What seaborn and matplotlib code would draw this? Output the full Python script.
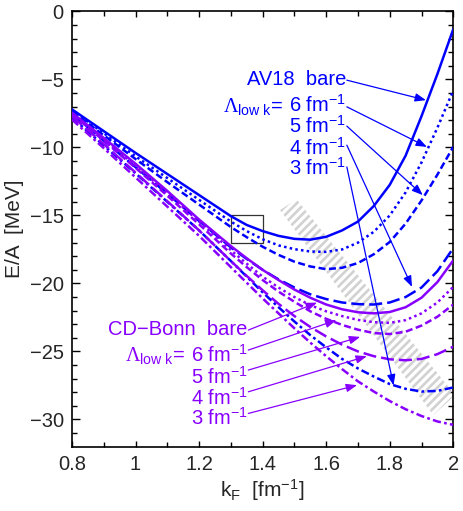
import pandas as pd
import seaborn as sns
import matplotlib.pyplot as plt

# E/A of nuclear matter vs Fermi momentum, AV18 and CD-Bonn, bare and V_low k
k_f = [0.8, 0.9, 1.0, 1.1, 1.2, 1.3, 1.35, 1.4, 1.45, 1.5,
       1.55, 1.6, 1.65, 1.7, 1.75, 1.8, 1.85, 1.9, 1.95, 2.0]

av18_bare = [-7.20, -8.80, -10.40, -11.95, -13.50, -15.05, -15.70, -16.15, -16.50, -16.72,
             -16.78, -16.57, -16.10, -15.45, -14.30, -12.75, -10.60, -7.70, -4.60, -1.30]
av18_6 = [-7.28, -8.95, -10.65, -12.25, -13.85, -15.45, -16.15, -16.75, -17.20, -17.48,
          -17.65, -17.68, -17.50, -17.00, -16.20, -15.00, -13.30, -11.10, -8.55, -5.80]
av18_5 = [-7.35, -9.10, -10.85, -12.55, -14.20, -15.85, -16.60, -17.30, -17.90, -18.40,
          -18.75, -18.95, -18.85, -18.50, -17.85, -16.95, -15.60, -13.90, -12.00, -9.95]
av18_4 = [-7.55, -9.50, -11.45, -13.40, -15.40, -17.35, -18.20, -19.00, -19.70, -20.30,
          -20.80, -21.15, -21.40, -21.52, -21.55, -21.40, -21.00, -20.30, -19.10, -17.40]
av18_3 = [-7.80, -9.85, -11.90, -14.00, -16.10, -18.35, -19.50, -20.65, -21.75, -22.80,
          -23.80, -24.70, -25.55, -26.25, -26.85, -27.40, -27.75, -27.95, -27.90, -27.65]

cdb_bare = [-7.45, -9.30, -11.20, -13.20, -15.30, -17.25, -18.15, -19.00, -19.75, -20.45,
            -21.05, -21.55, -21.90, -22.12, -22.20, -22.10, -21.75, -21.05, -19.90, -18.30]
cdb_6 = [-7.50, -9.40, -11.35, -13.35, -15.45, -17.55, -18.55, -19.50, -20.30, -21.00,
         -21.60, -22.05, -22.40, -22.68, -22.85, -22.90, -22.70, -22.20, -21.40, -20.25]
cdb_5 = [-7.55, -9.50, -11.50, -13.55, -15.65, -17.80, -18.80, -19.75, -20.60, -21.35,
         -22.05, -22.60, -23.05, -23.40, -23.65, -23.72, -23.55, -23.10, -22.45, -21.55]
cdb_4 = [-7.70, -9.75, -11.85, -13.95, -16.10, -18.35, -19.45, -20.50, -21.50, -22.40,
         -23.20, -23.90, -24.50, -25.00, -25.35, -25.58, -25.65, -25.55, -25.20, -24.65]
cdb_3 = [-7.95, -10.05, -12.20, -14.35, -16.50, -18.80, -19.95, -21.10, -22.20, -23.30,
         -24.35, -25.35, -26.30, -27.20, -27.95, -28.65, -29.25, -29.75, -30.15, -30.40]

cutoffs = ['bare', '6', '5', '4', '3']

# empirical saturation box and hatched band
box_k = [1.3, 1.4, 1.4, 1.3, 1.3]
box_e = [-17.0, -17.0, -15.0, -15.0, -17.0]
band_k = [1.455, 1.506, 2.006, 1.937]
band_e = [-14.61, -13.80, -28.21, -29.68]

# labels and arrows (text baseline, arrow start, arrow end)
av_label_x, av_lambda_x = 1.663, 1.464
cd_label_x, cd_lambda_x = 1.352, 1.155
av_label_y = [-5.42, -7.41, -8.95, -10.57, -12.04]
av_arrow_start = [(1.665, -5.05), (1.665, -7.01), (1.665, -8.43), (1.665, -9.83), (1.665, -11.43)]
av_arrow_end = [(1.914, -6.52), (1.917, -9.96), (1.904, -13.50), (1.870, -20.25), (1.812, -27.50)]
cd_label_y = [-23.80, -25.76, -27.35, -28.95, -30.42]
cd_arrow_start = [(1.355, -23.43), (1.355, -24.90), (1.355, -26.37), (1.355, -27.97), (1.355, -29.56)]
cd_arrow_end = [(1.571, -21.41), (1.632, -22.70), (1.707, -23.93), (1.728, -25.35), (1.697, -27.48)]

xticks = [0.8, 1.0, 1.2, 1.4, 1.6, 1.8, 2.0]
xticklabels = ['0.8', '1', '1.2', '1.4', '1.6', '1.8', '2']
yticks = [-30, -25, -20, -15, -10, -5, 0]
yticklabels = ['\u221230', '\u221225', '\u221220', '\u221215', '\u221210', '\u22125', '0']

blue = '#0000ff'
violet = '#8800ff'

rows = []
for pot, curves in [('AV18', [av18_bare, av18_6, av18_5, av18_4, av18_3]),
                    ('CD-Bonn', [cdb_bare, cdb_6, cdb_5, cdb_4, cdb_3])]:
    for cut, vals in zip(cutoffs, curves):
        for kk, ee in zip(k_f, vals):
            rows.append({'k': kk, 'E': ee, 'potential': pot, 'cutoff': cut})
df = pd.DataFrame(rows)

sns.set_style('ticks')
plt.rcParams['font.family'] = ['Liberation Sans', 'DejaVu Sans']
plt.rcParams['mathtext.fontset'] = 'custom'
plt.rcParams['mathtext.rm'] = 'Liberation Sans'
plt.rcParams['mathtext.it'] = 'Liberation Sans:italic'
plt.rcParams['mathtext.tt'] = 'Liberation Serif'
plt.rcParams['hatch.linewidth'] = 1.9
plt.rcParams['hatch.color'] = '#d2d2d2'

fig = plt.figure(figsize=(4.63, 5.11), dpi=100)
ax = fig.add_axes([0.1555, 0.126, 0.8235, 0.8515])

ax.fill(band_k, band_e, facecolor='none', edgecolor='#d2d2d2', hatch='////', linewidth=0, zorder=1)
ax.plot(box_k, box_e, color='#333333', lw=0.9, zorder=2)

sns.lineplot(data=df, x='k', y='E', hue='potential', style='cutoff',
             hue_order=['AV18', 'CD-Bonn'], style_order=cutoffs,
             palette={'AV18': blue, 'CD-Bonn': violet},
             dashes={'bare': '', '6': (1, 1.3), '5': (2.8, 1.4),
                     '4': (5.2, 2.0), '3': (3.3, 1.3, 1.1, 1.3)},
             estimator=None, sort=False, legend=False, linewidth=1.8, ax=ax, zorder=3)

arrow_kw = dict(arrowstyle='-|>,head_length=0.65,head_width=0.25', lw=0.9,
                shrinkA=0, shrinkB=0, mutation_scale=10)
fs = 14.5
lam = r'$\mathtt{\Lambda}_{\mathrm{low\ k}}$='
for i, cut in enumerate(cutoffs):
    if cut == 'bare':
        av_txt, cd_txt = 'AV18  bare', 'CD\u2212Bonn  bare'
    else:
        av_txt = cd_txt = cut + r' fm$^{-1}$'
    ax.text(av_label_x, av_label_y[i], av_txt, color=blue, fontsize=fs, ha='right', va='baseline')
    ax.text(cd_label_x, cd_label_y[i], cd_txt, color=violet, fontsize=fs, ha='right', va='baseline')
    if cut == '6':
        ax.text(av_lambda_x, av_label_y[i], lam, color=blue, fontsize=fs, ha='right', va='baseline')
        ax.text(cd_lambda_x, cd_label_y[i], lam, color=violet, fontsize=fs, ha='right', va='baseline')
    ax.annotate('', xy=av_arrow_end[i], xytext=av_arrow_start[i],
                arrowprops=dict(color=blue, **arrow_kw), zorder=4)
    ax.annotate('', xy=cd_arrow_end[i], xytext=cd_arrow_start[i],
                arrowprops=dict(color=violet, **arrow_kw), zorder=4)

ax.set_xlim(0.8, 2.0)
ax.set_ylim(-32, 0)
ax.set_xticks(xticks)
ax.set_xticklabels(xticklabels)
ax.set_yticks(yticks)
ax.set_yticklabels(yticklabels)
ax.set_xticks([0.9, 1.1, 1.3, 1.5, 1.7, 1.9], minor=True)
ax.set_yticks([v for v in range(-31, 0) if v % 5 != 0], minor=True)
ax.tick_params(which='both', direction='in', top=True, right=True, labelsize=14.5,
               width=1.0, color='black', pad=6)
ax.tick_params(axis='y', which='major', length=5.5)
ax.tick_params(axis='y', which='minor', length=3.6)
ax.tick_params(axis='x', which='major', length=4.0)
ax.tick_params(axis='x', which='minor', length=3.6)
for sp in ax.spines.values():
    sp.set_linewidth(1.2)
    sp.set_color('black')

ax.set_xlabel(r'k$_\mathrm{F}$  [fm$^{-1}$]', fontsize=15, labelpad=2)
ax.set_ylabel('E/A  [MeV]', fontsize=15, labelpad=4)

fig.savefig('out.png', dpi=100)
